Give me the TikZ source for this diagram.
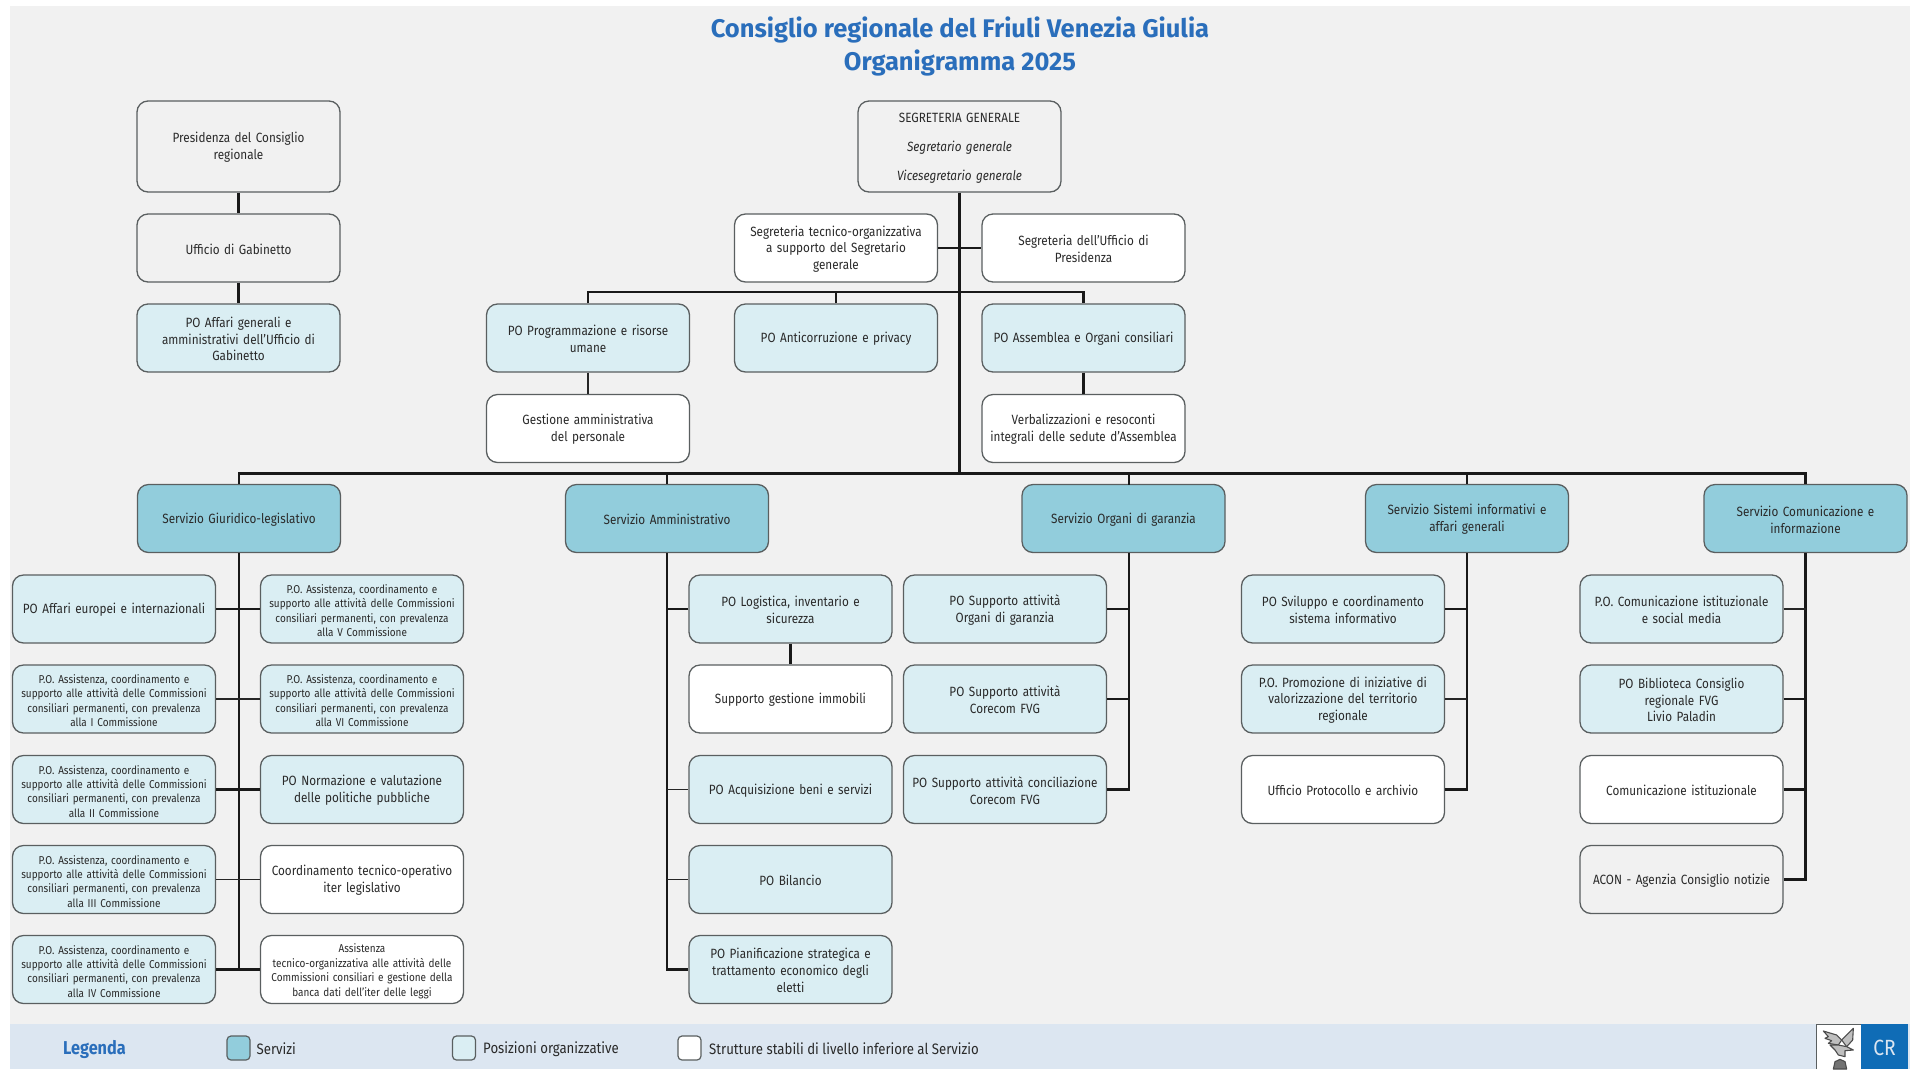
\documentclass[tikz,border=0pt]{standalone}
\usepackage{fontspec}
\setmainfont[FakeStretch=0.875]{Fira Sans}
\newfontfamily\titlefont[FakeStretch=1.0]{Fira Sans}
\definecolor{bgc}{HTML}{F1F1F1}
\definecolor{legc}{HTML}{DCE6F1}
\definecolor{svc}{HTML}{92CDDC}
\definecolor{poc}{HTML}{DAEEF3}
\definecolor{edgec}{HTML}{5A5F60}
\definecolor{titc}{HTML}{2A6EBB}
\definecolor{txtc}{HTML}{2A2A2A}
\definecolor{logoc}{HTML}{0F6CB6}
\tikzset{
 base/.style={draw=edgec,line width=1.3pt,rounded corners=11pt,minimum width=203pt,inner sep=0pt,align=center,text=txtc,text width=197pt,font=\fontsize{13.4}{16.7}\selectfont,execute at begin node={\rule{0pt}{12.5pt}}},
 box/.style={base,minimum height=68pt},
 tall/.style={base,minimum height=91pt},
 svcbox/.style={box,fill=svc},
 pobox/.style={box,fill=poc},
 wbox/.style={box,fill=white},
 nofill/.style={box,fill=bgc},
 small/.style={font=\fontsize{11.4}{14.4}\selectfont},
 conn/.style={draw=black!90,line width=2.2pt},
 thin/.style={draw=black!85,line width=1.9pt},
 swatch/.style={draw=edgec,line width=1.2pt,rounded corners=4pt,minimum width=23pt,minimum height=24pt,inner sep=0pt},
 legtxt/.style={anchor=west,inner sep=0pt,text=txtc,font=\fontsize{15.1}{17}\selectfont},
}
\begin{document}
\begin{tikzpicture}[x=1pt,y=-1pt]
\useasboundingbox (0,0) rectangle (1910,1069);
\fill[white] (0,0) rectangle (1910,1069);
\fill[bgc] (10,6) rectangle (1910,1069);
\fill[legc] (10,1024) rectangle (1910,1069);

\node[inner sep=0pt,text=titc,align=center,font=\titlefont\bfseries\fontsize{25.5}{33.2}\selectfont] (title) at (960,46.5) {Consiglio regionale del Friuli Venezia Giulia\\Organigramma 2025};

% top left column
\node[tall,fill=bgc] (pres) at (238.5,146.5) {Presidenza del Consiglio\\regionale};
\node[nofill] (gab) at (238.5,248) {Ufficio di Gabinetto};
\node[pobox] (aff) at (238.5,338) {PO Affari generali e\\amministrativi dell'Ufficio di\\Gabinetto};

% top centre
\node[tall,fill=bgc] (seg) at (959.5,146.5) {SEGRETERIA GENERALE\\[12pt]\textit{Segretario generale}\\[12pt]\textit{Vicesegretario generale}};
\node[wbox] (tec) at (836,248) {Segreteria tecnico-organizzativa\\a supporto del Segretario\\generale};
\node[wbox] (pre) at (1083.5,248) {Segreteria dell'Ufficio di\\Presidenza};
\node[pobox] (prog) at (588,338) {PO Programmazione e risorse\\umane};
\node[pobox] (anti) at (836,338) {PO Anticorruzione e privacy};
\node[pobox] (assem) at (1083.5,338) {PO Assemblea e Organi consiliari};
\node[wbox] (gest) at (588,428.5) {Gestione amministrativa\\del personale};
\node[wbox] (verb) at (1083.5,428.5) {Verbalizzazioni e resoconti\\integrali delle sedute d'Assemblea};

% services
\node[svcbox] (giur) at (239,518.5) {Servizio Giuridico-legislativo};
\node[svcbox] (amm) at (667,518.5) {Servizio Amministrativo};
\node[svcbox] (org) at (1123.5,518.5) {Servizio Organi di garanzia};
\node[svcbox] (sis) at (1467,518.5) {Servizio Sistemi informativi e\\affari generali};
\node[svcbox] (com) at (1805.5,518.5) {Servizio Comunicazione e\\informazione};

% giuridico left
\node[pobox] (la) at (114,609) {PO Affari europei e internazionali};
\node[pobox,small] (lb) at (114,699) {P.O. Assistenza, coordinamento e\\supporto alle attività delle Commissioni\\consiliari permanenti, con prevalenza\\alla I Commissione};
\node[pobox,small] (lc) at (114,789.5) {P.O. Assistenza, coordinamento e\\supporto alle attività delle Commissioni\\consiliari permanenti, con prevalenza\\alla II Commissione};
\node[pobox,small] (ld) at (114,879.5) {P.O. Assistenza, coordinamento e\\supporto alle attività delle Commissioni\\consiliari permanenti, con prevalenza\\alla III Commissione};
\node[pobox,small] (le) at (114,969.5) {P.O. Assistenza, coordinamento e\\supporto alle attività delle Commissioni\\consiliari permanenti, con prevalenza\\alla IV Commissione};
% giuridico right
\node[pobox,small] (ra) at (362,609) {P.O. Assistenza, coordinamento e\\supporto alle attività delle Commissioni\\consiliari permanenti, con prevalenza\\alla V Commissione};
\node[pobox,small] (rb) at (362,699) {P.O. Assistenza, coordinamento e\\supporto alle attività delle Commissioni\\consiliari permanenti, con prevalenza\\alla VI Commissione};
\node[pobox] (rc) at (362,789.5) {PO Normazione e valutazione\\delle politiche pubbliche};
\node[wbox] (rd) at (362,879.5) {Coordinamento tecnico-operativo\\iter legislativo};
\node[wbox,small] (re) at (362,969.5) {Assistenza\\tecnico-organizzativa alle attività delle\\Commissioni consiliari e gestione della\\banca dati dell'iter delle leggi};

% amministrativo
\node[pobox] (aa) at (790.5,609) {PO Logistica, inventario e\\sicurezza};
\node[wbox] (ab) at (790.5,699) {Supporto gestione immobili};
\node[pobox] (ac) at (790.5,789.5) {PO Acquisizione beni e servizi};
\node[pobox] (ad) at (790.5,879.5) {PO Bilancio};
\node[pobox] (ae) at (790.5,969.5) {PO Pianificazione strategica e\\trattamento economico degli\\eletti};

% organi
\node[pobox] (oa) at (1005,609) {PO Supporto attività\\Organi di garanzia};
\node[pobox] (ob) at (1005,699) {PO Supporto attività\\Corecom FVG};
\node[pobox] (oc) at (1005,789.5) {PO Supporto attività conciliazione\\Corecom FVG};

% sistemi
\node[pobox] (sa) at (1343,609) {PO Sviluppo e coordinamento\\sistema informativo};
\node[pobox] (sb) at (1343,699) {P.O. Promozione di iniziative di\\valorizzazione del territorio\\regionale};
\node[wbox] (sc) at (1343,789.5) {Ufficio Protocollo e archivio};

% comunicazione
\node[pobox] (ca) at (1681.5,609) {P.O. Comunicazione istituzionale\\e social media};
\node[pobox] (cb) at (1681.5,699) {PO Biblioteca Consiglio\\regionale FVG\\Livio Paladin};
\node[wbox] (cc) at (1681.5,789.5) {Comunicazione istituzionale};
\node[nofill] (cd) at (1681.5,879.5) {ACON - Agenzia Consiglio notizie};

% connectors
\coordinate (busa) at (0,292);
\coordinate (busb) at (0,473.5);
\coordinate (orgt) at (1129,484.5);
\coordinate (orgb) at (1129,552.5);
\draw[conn] (pres.south) -- (gab.north);
\draw[conn] (gab.south) -- (aff.north);
\draw[conn] (seg.south) -- (seg.south |- busb);
\draw[conn] (tec.east) -- (pre.west);
\draw[conn] (prog.north) -- (prog.north |- busa) -- (assem.north |- busa) -- (assem.north);
\draw[conn] (anti.north) -- (anti.north |- busa);
\draw[thin] (prog.south) -- (gest.north);
\draw[conn] (assem.south) -- (verb.north);
\draw[conn] (giur.north) -- (giur.north |- busb) -- (com.north |- busb) -- (com.north);
\draw[conn] (amm.north) -- (amm.north |- busb);
\draw[conn] (orgt) -- (orgt |- busb);
\draw[conn] (sis.north) -- (sis.north |- busb);
% giuridico
\draw[conn] (giur.south) -- (giur.south |- le.east);
\draw[conn] (la.east) -- (ra.west);
\draw[thin] (lb.east) -- (rb.west);
\draw[conn] (lc.east) -- (rc.west);
\draw[thin] (ld.east) -- (rd.west);
\draw[conn] (le.east) -- (re.west);
% amministrativo
\draw[conn] (amm.south) -- (amm.south |- ae.west) -- (ae.west);
\draw[conn] (amm.south |- aa.west) -- (aa.west);
\draw[conn] (aa.south) -- (ab.north);
\draw[thin] (amm.south |- ac.west) -- (ac.west);
\draw[thin] (amm.south |- ad.west) -- (ad.west);
% organi
\draw[conn] (orgb) -- (orgb |- oc.east) -- (oc.east);
\draw[conn] (oa.east) -- (orgb |- oa.east);
\draw[conn] (ob.east) -- (orgb |- ob.east);
% sistemi
\draw[conn] (sis.south) -- (sis.south |- sc.east) -- (sc.east);
\draw[conn] (sa.east) -- (sis.south |- sa.east);
\draw[thin] (sb.east) -- (sis.south |- sb.east);
% comunicazione
\draw[conn] (com.south) -- (com.south |- cd.east) -- (cd.east);
\draw[thin] (ca.east) -- (com.south |- ca.east);
\draw[conn] (cb.east) -- (com.south |- cb.east);
\draw[conn] (cc.east) -- (com.south |- cc.east);

% legend
\node[anchor=west,inner sep=0pt,text=titc,font=\bfseries\fontsize{18.6}{20}\selectfont] (leg) at (63,1049) {Legenda};
\node[swatch,fill=svc] (s1) at (238.5,1048) {};
\node[swatch,fill=poc] (s2) at (464,1048) {};
\node[swatch,fill=white] (s3) at (689.5,1048) {};
\node[legtxt] (t1) at (256.5,1049) {Servizi};
\node[legtxt] (t2) at (483,1049) {Posizioni organizzative};
\node[legtxt] (t3) at (709,1049) {Strutture stabili di livello inferiore al Servizio};

% logo
\fill[white] (1816,1024) rectangle (1861,1069);
\draw[edgec,line width=1pt] (1816,1069) -- (1816,1024.5) -- (1861,1024.5);
\fill[logoc] (1861,1024) rectangle (1908,1069);
\node[text=legc,inner sep=0pt,font=\fontsize{22}{24}\selectfont] (cr) at (1884.5,1048) {CR};
% eagle
\begin{scope}[shift={(1810,1020)},x=0.3333pt,y=-0.3333pt,draw=black!70,fill=black!25,line width=1.1pt,line join=round]
 \filldraw (40,33) -- (80,45) -- (95,60) -- (85,75) -- (55,70) -- (65,62) -- (45,55) -- (55,50) -- cycle;
 \filldraw (130,25) -- (128,60) -- (110,80) -- (95,60) -- (105,50) -- cycle;
 \filldraw (85,75) -- (110,80) -- (130,90) -- (105,92) -- (105,110) -- (85,105) -- (75,90) -- (60,75) -- cycle;
 \filldraw[fill=black!55] (70,147) -- (75,125) -- (90,118) -- (105,125) -- (110,147) -- cycle;
\end{scope}
\end{tikzpicture}
\end{document}
